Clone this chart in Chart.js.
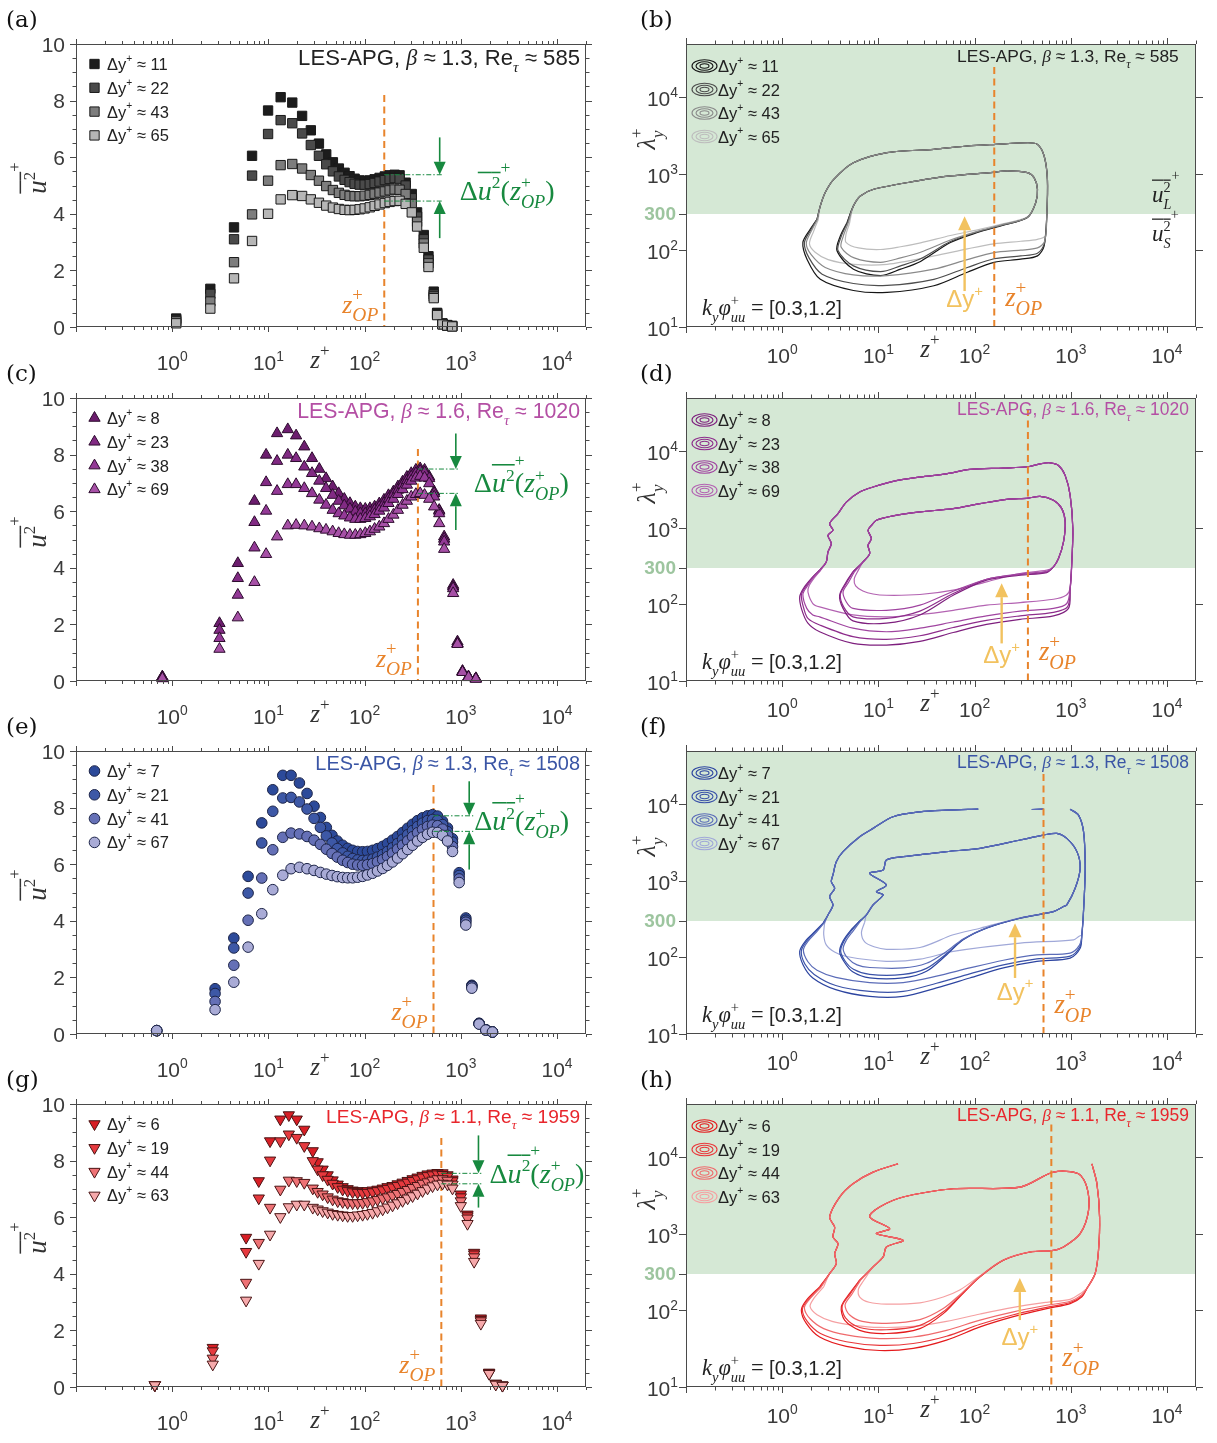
<!DOCTYPE html>
<html>
<head>
<meta charset="UTF-8" />
<title>LES-APG streamwise energy: profiles and spectra</title>
<script src="https://cdn.jsdelivr.net/npm/chart.js"></script>
<style>
  body { margin: 0; background: #fff; width: 1217px; height: 1443px; position: relative; overflow: hidden; }
  canvas { position: absolute; }
</style>
</head>
<body>
<script>
// ---------- profile data: wall distance z+ and u'u'+ for four grid spacings ----------
const zA = [1.10, 2.49, 4.39, 6.76, 9.92, 13.4, 17.7, 22.4, 27.6, 33.5, 39.9, 46.8, 54.0, 61.9, 69.8, 78.7, 88.7, 100, 113, 127, 143, 162, 182, 205, 231, 267, 309, 351, 412, 461, 523, 567, 644, 721, 813];
const uA1 = [0.30, 1.35, 3.52, 6.05, 7.65, 8.12, 7.93, 7.46, 6.95, 6.48, 6.10, 5.82, 5.60, 5.45, 5.33, 5.24, 5.18, 5.16, 5.18, 5.22, 5.27, 5.32, 5.36, 5.38, 5.36, 5.10, 4.70, 4.05, 3.25, 2.50, 1.25, 0.50, 0.13, 0.07, 0.04];
const uA2 = [0.25, 1.17, 3.10, 5.35, 6.82, 7.31, 7.20, 6.84, 6.43, 6.05, 5.75, 5.50, 5.32, 5.20, 5.12, 5.06, 5.03, 5.03, 5.05, 5.09, 5.14, 5.19, 5.23, 5.26, 5.24, 5.00, 4.55, 3.90, 3.10, 2.38, 1.15, 0.48, 0.11, 0.06, 0.03];
const uA3 = [0.20, 0.90, 2.29, 3.98, 5.17, 5.72, 5.76, 5.60, 5.37, 5.17, 4.98, 4.84, 4.74, 4.67, 4.63, 4.62, 4.62, 4.64, 4.67, 4.71, 4.75, 4.79, 4.83, 4.86, 4.85, 4.70, 4.35, 3.72, 2.95, 2.25, 1.08, 0.45, 0.10, 0.05, 0.03];
const uA4 = [0.13, 0.65, 1.72, 3.04, 4.00, 4.51, 4.66, 4.63, 4.51, 4.39, 4.29, 4.22, 4.17, 4.14, 4.13, 4.14, 4.16, 4.19, 4.23, 4.28, 4.33, 4.38, 4.42, 4.45, 4.46, 4.35, 4.05, 3.55, 2.80, 2.12, 1.02, 0.42, 0.09, 0.05, 0.02];

const zC = [0.79, 3.10, 4.81, 7.16, 9.46, 12.3, 15.9, 19.4, 23.6, 28.4, 33.8, 39.7, 46.5, 53.7, 61.5, 70.4, 80.0, 90.2, 101.6, 113.5, 127, 142, 159, 177, 199, 222, 248, 275, 305, 341, 378, 420, 469, 528, 596, 671, 832, 923, 1041, 1201, 1432];
const uC1 = [0.15, 2.04, 4.16, 6.36, 7.99, 8.75, 8.89, 8.67, 8.28, 7.87, 7.49, 7.16, 6.87, 6.63, 6.43, 6.28, 6.16, 6.10, 6.08, 6.10, 6.16, 6.27, 6.40, 6.56, 6.69, 6.87, 7.04, 7.21, 7.34, 7.46, 7.51, 7.46, 7.22, 6.69, 6.04, 5.10, 3.39, 1.39, 0.35, 0.15, 0.09];
const uC2 = [0.15, 1.80, 3.63, 5.61, 7.02, 7.77, 7.99, 7.87, 7.57, 7.34, 7.07, 6.81, 6.57, 6.36, 6.20, 6.08, 5.98, 5.92, 5.91, 5.96, 6.04, 6.15, 6.28, 6.43, 6.60, 6.75, 6.93, 7.08, 7.22, 7.34, 7.42, 7.37, 7.16, 6.63, 6.01, 5.02, 3.33, 1.33, 0.33, 0.15, 0.09];
const uC3 = [0.12, 1.51, 3.04, 4.71, 6.01, 6.71, 6.95, 6.95, 6.81, 6.63, 6.40, 6.22, 6.04, 5.92, 5.84, 5.77, 5.72, 5.72, 5.75, 5.81, 5.89, 6.01, 6.12, 6.28, 6.43, 6.60, 6.77, 6.93, 7.07, 7.18, 7.24, 7.18, 6.98, 6.51, 5.92, 4.92, 3.27, 1.33, 0.33, 0.15, 0.09];
const uC4 = [0.09, 1.13, 2.24, 3.49, 4.48, 5.10, 5.49, 5.51, 5.49, 5.45, 5.39, 5.34, 5.28, 5.22, 5.18, 5.16, 5.16, 5.18, 5.22, 5.28, 5.37, 5.45, 5.57, 5.72, 5.87, 6.04, 6.22, 6.36, 6.51, 6.60, 6.63, 6.57, 6.43, 6.16, 5.57, 4.66, 3.10, 1.30, 0.31, 0.13, 0.07];

const zE = [0.69, 2.79, 4.37, 6.15, 8.53, 11.1, 14.1, 17.2, 21.0, 25.2, 29.8, 34.7, 40.0, 45.8, 52.0, 59.1, 66.6, 75.0, 84.6, 95.3, 107, 121, 136, 154, 173, 195, 220, 248, 280, 315, 355, 400, 451, 508, 572, 645, 727, 819, 961, 1127, 1301, 1549, 1818, 2131];
const uE1 = [0.12, 1.60, 3.39, 5.57, 7.46, 8.63, 9.14, 9.14, 8.87, 8.50, 8.05, 7.65, 7.30, 7.02, 6.82, 6.67, 6.56, 6.49, 6.45, 6.44, 6.45, 6.49, 6.55, 6.63, 6.73, 6.85, 6.98, 7.12, 7.27, 7.41, 7.54, 7.64, 7.71, 7.75, 7.70, 7.52, 7.28, 6.90, 5.70, 4.10, 1.72, 0.38, 0.15, 0.07];
const uE2 = [0.12, 1.43, 3.04, 4.98, 6.75, 7.87, 8.34, 8.36, 8.20, 7.95, 7.62, 7.30, 7.00, 6.75, 6.55, 6.40, 6.28, 6.20, 6.15, 6.13, 6.14, 6.18, 6.25, 6.34, 6.45, 6.58, 6.73, 6.88, 7.04, 7.19, 7.33, 7.45, 7.54, 7.58, 7.55, 7.40, 7.15, 6.78, 5.60, 4.02, 1.70, 0.37, 0.15, 0.07];
const uE3 = [0.12, 1.15, 2.43, 4.02, 5.51, 6.51, 6.95, 7.10, 7.07, 6.98, 6.85, 6.70, 6.53, 6.38, 6.25, 6.14, 6.06, 6.00, 5.97, 5.96, 5.98, 6.02, 6.08, 6.16, 6.27, 6.39, 6.53, 6.67, 6.82, 6.97, 7.11, 7.23, 7.33, 7.38, 7.36, 7.24, 7.02, 6.62, 5.48, 3.95, 1.68, 0.36, 0.14, 0.07];
const uE4 = [0.12, 0.86, 1.83, 3.07, 4.25, 5.10, 5.61, 5.84, 5.89, 5.84, 5.78, 5.71, 5.65, 5.60, 5.56, 5.53, 5.52, 5.52, 5.54, 5.57, 5.62, 5.68, 5.76, 5.85, 5.96, 6.08, 6.22, 6.37, 6.52, 6.67, 6.82, 6.95, 7.06, 7.13, 7.12, 7.02, 6.82, 6.45, 5.35, 3.85, 1.62, 0.35, 0.14, 0.07];

const zG = [0.66, 2.64, 5.86, 7.94, 10.4, 13.3, 16.3, 19.7, 23.6, 28.9, 32.5, 36.6, 41.3, 46.5, 52.5, 59.1, 66.6, 75.0, 84.6, 95.3, 107, 121, 136, 154, 173, 195, 220, 248, 280, 315, 355, 400, 451, 508, 572, 645, 727, 819, 1000, 1173, 1375, 1614, 1968, 2307, 2709];
const uG1 = [0.07, 1.39, 5.28, 7.28, 8.69, 9.46, 9.61, 9.46, 9.10, 8.34, 7.95, 7.69, 7.49, 7.31, 7.16, 7.07, 7.00, 6.95, 6.93, 6.91, 6.93, 6.95, 6.98, 7.02, 7.07, 7.11, 7.17, 7.23, 7.29, 7.35, 7.41, 7.47, 7.52, 7.55, 7.57, 7.56, 7.49, 7.34, 6.81, 6.10, 4.75, 2.43, 0.51, 0.12, 0.06];
const uG2 = [0.07, 1.27, 4.78, 6.67, 8.01, 8.69, 8.93, 8.81, 8.52, 7.99, 7.69, 7.49, 7.33, 7.19, 7.07, 6.98, 6.93, 6.89, 6.87, 6.86, 6.87, 6.89, 6.93, 6.96, 7.01, 7.06, 7.11, 7.17, 7.23, 7.29, 7.35, 7.41, 7.46, 7.49, 7.52, 7.50, 7.44, 7.28, 6.71, 6.04, 4.69, 2.38, 0.51, 0.12, 0.06];
const uG3 = [0.07, 1.01, 3.69, 5.10, 6.34, 6.98, 7.30, 7.28, 7.22, 7.02, 6.90, 6.81, 6.71, 6.63, 6.57, 6.54, 6.51, 6.50, 6.50, 6.51, 6.54, 6.57, 6.62, 6.67, 6.71, 6.77, 6.83, 6.90, 6.97, 7.04, 7.11, 7.19, 7.24, 7.30, 7.35, 7.35, 7.30, 7.16, 6.57, 5.96, 4.59, 2.33, 0.48, 0.12, 0.06];
const uG4 = [0.07, 0.80, 3.06, 4.36, 5.39, 6.01, 6.36, 6.45, 6.45, 6.34, 6.28, 6.22, 6.17, 6.12, 6.09, 6.07, 6.05, 6.05, 6.07, 6.09, 6.12, 6.16, 6.22, 6.28, 6.35, 6.42, 6.50, 6.58, 6.67, 6.75, 6.84, 6.93, 7.02, 7.10, 7.16, 7.19, 7.16, 7.02, 6.40, 5.77, 4.43, 2.24, 0.47, 0.09, 0.05];

// grid spacings, case parameters, outer-peak location and the two levels marked at z_OP
const dyA = ['11', '22', '43', '65'];
const dyC = ['8', '23', '38', '69'];
const dyE = ['7', '21', '41', '67'];
const dyG = ['6', '19', '44', '63'];
const betas = ['1.3', '1.6', '1.3', '1.1'];
const reTaus = ['585', '1020', '1508', '1959'];
const zOP = [160, 358, 520, 627];
const duTop = [5.38, 7.49, 7.71, 7.55];
const duBot = [4.45, 6.63, 7.16, 7.18];

// ---------- spectrogram contours k_y phi_uu+ = 0.3 (outer) and 1.2 (inner), points [z+, lambda_y+] ----------
// shared upper arcs, then the lower branch of each grid spacing
const outerTopB = [[562, 283], [571, 850], [528, 1720], [450, 2440], [354, 2560], [166, 2440], [84, 2320], [37.7, 2100], [12.3, 1900], [5.5, 1400], [3.43, 850], [2.8, 572], [2.49, 383]];
const outerLowB = [
  [[2.30, 256], [1.96, 190], [1.64, 127], [1.81, 77], [2.49, 42], [5.5, 30], [12.3, 28.3], [37.7, 34.6], [84, 52], [159, 70], [301, 77], [450, 85], [528, 115]],
  [[2.30, 256], [1.98, 186], [1.70, 126], [1.90, 80], [2.6, 49], [5.5, 37], [12.3, 35], [37.7, 42], [84, 60], [159, 78], [301, 85], [450, 92], [530, 122]],
  [[2.32, 254], [2.02, 182], [1.78, 124], [2.0, 88], [2.8, 60], [5.5, 48], [12.3, 47], [37.7, 57], [84, 76], [159, 94], [301, 101], [450, 108], [535, 132]],
  [[2.36, 250], [2.12, 178], [1.92, 122], [2.2, 95], [3.0, 76], [5.5, 66], [12.3, 66], [37.7, 85], [84, 105], [159, 122], [301, 132], [450, 140], [540, 155]]
];
const innerTopB = [[432, 423], [450, 631], [415, 895], [354, 1040], [219, 1096], [147, 1040], [56, 942], [25.3, 811], [8.93, 631], [6.49, 516], [5.5, 383]];
const innerLowB = [
  [[4.72, 232], [4.02, 155], [3.71, 99], [5.5, 57], [10.5, 47], [17, 57], [27.4, 72], [56, 127], [107, 172], [187, 210], [354, 269]],
  [[4.75, 230], [4.1, 152], [3.8, 100], [5.5, 63], [10.5, 53], [17, 63], [27.4, 78], [56, 131], [107, 175], [187, 212], [354, 270]],
  [[4.85, 228], [4.3, 152], [4.1, 110], [5.6, 80], [10.5, 70], [17, 80], [27.4, 95], [56, 137], [107, 178], [187, 215], [354, 272]],
  [[5.0, 225], [4.6, 162], [4.6, 128], [6.2, 108], [10.5, 103], [17, 112], [27.4, 126], [56, 157], [107, 186], [187, 220], [354, 275]]
];

const outerTopD = [[984, 162], [1024, 360], [1049, 980], [984, 2670], [873, 4870], [744, 6560], [609, 7110], [479, 6900], [362, 6310], [199, 6060], [89.3, 5820], [51.1, 5110], [27, 4630], [14.2, 4060], [8.8, 3430], [6.39, 2950], [4.64, 2180], [3.8, 1540], [3.11, 1140], [3.37, 933], [2.99, 802], [3.24, 625], [2.99, 487], [2.87, 360]];
const outerLowD = [
  [[2.45, 281], [2.08, 230], [1.71, 171], [1.52, 126], [1.60, 85], [1.85, 57], [2.45, 44], [5.44, 31], [12.1, 29.5], [27, 33], [59.9, 43], [133, 55], [297, 64], [660, 71], [946, 89]],
  [[2.45, 281], [2.08, 228], [1.75, 170], [1.58, 132], [1.68, 88], [1.85, 66], [2.45, 54], [5.44, 38], [12.1, 35], [27, 39], [59.9, 50], [133, 62], [297, 71], [660, 79], [923, 93]],
  [[2.47, 280], [2.1, 225], [1.8, 170], [1.64, 135], [1.80, 89], [2.08, 73], [2.45, 69], [5.44, 49], [12.1, 44], [27, 49], [59.9, 59], [133, 71], [297, 82], [660, 89], [908, 103]],
  [[2.5, 278], [2.15, 222], [1.9, 175], [1.85, 146], [2.08, 103], [2.45, 93], [5.44, 73], [12.1, 69], [27, 74], [59.9, 84], [133, 98], [297, 106], [660, 117], [894, 132]]
];
const innerTopD = [[660, 310], [744, 398], [839, 657], [873, 1200], [806, 1790], [660, 2300], [479, 2590], [362, 2460], [215, 2370], [114, 2080], [59.9, 1790], [27, 1620], [14.2, 1440], [9.53, 1260], [8.45, 1080], [7.8, 933], [8.45, 726], [7.8, 594], [8.12, 463], [6.92, 360]];
const innerLowD = [
  [[5.44, 267], [4.64, 198], [3.95, 132], [4.29, 89], [5.44, 61], [12.1, 57], [27, 73], [59.9, 132], [133, 208], [297, 241], [562, 261]],
  [[5.44, 267], [4.7, 196], [4.02, 135], [4.35, 93], [5.44, 69], [12.1, 66], [27, 82], [59.9, 139], [133, 214], [297, 246], [562, 267]],
  [[5.6, 265], [4.9, 195], [4.29, 146], [4.64, 108], [5.44, 89], [12.1, 84], [27, 98], [59.9, 149], [133, 214], [297, 251], [562, 272]],
  [[6.0, 262], [5.6, 215], [5.8, 175], [6.9, 150], [8.8, 137], [12.1, 132], [27, 135], [59.9, 154], [133, 198], [297, 254], [562, 281]]
];

const outerTopF = [[1303, 198], [1377, 594], [1410, 1620], [1357, 4390], [1202, 7260], [984, 8690], null, [519, 8690], [393, 8600], null, [109, 8690], [51, 8430], [27, 8020], [14.2, 6900], [8.8, 4870], [6.39, 3790], [4.29, 2420], [3.65, 1790], [3.37, 1200], [3.24, 980], [3.51, 802], [3.11, 625], [3.37, 487], [2.99, 360]];
const outerLowF = [
  [[2.66, 281], [2.2, 220], [1.75, 165], [1.52, 120], [1.65, 80], [2.08, 54], [3.6, 38], [8.12, 31], [18.1, 31], [40.2, 40], [89, 54], [199, 73], [443, 89], [984, 98], [1250, 132]],
  [[2.68, 280], [2.22, 218], [1.8, 165], [1.58, 122], [1.72, 82], [2.15, 60], [3.6, 43], [8.12, 36], [18.1, 36], [40.2, 46], [89, 61], [199, 80], [443, 96], [984, 104], [1240, 138]],
  [[2.7, 279], [2.27, 215], [1.87, 165], [1.66, 125], [1.85, 88], [2.3, 68], [3.6, 55], [8.12, 47], [18.1, 47], [40.2, 57], [89, 73], [199, 92], [443, 108], [984, 114], [1230, 145]],
  [[2.75, 275], [2.7, 200], [2.87, 146], [3.5, 118], [4.64, 103], [12.1, 89], [27, 95], [59.9, 120], [297, 154], [1066, 170], [1220, 190]]
];
const innerTopF = [[908, 487], [1109, 802], [1250, 1460], [1157, 2420], [908, 3600], [714, 4190], [519, 3980], [297, 3430], [114, 2670], [51, 2420], [18.1, 2080], [12.1, 1880], [11.2, 1390], [8.12, 1260], [12.1, 887], [9.53, 726], [11.2, 657], [8.8, 487], [7.5, 360]];
const innerLowF = [
  [[6.4, 300], [5.2, 230], [4.3, 165], [3.95, 120], [4.4, 88], [5.4, 65], [8.12, 54], [18.1, 54], [31.6, 66], [51, 108], [76, 170], [133, 241], [297, 326], [660, 398], [839, 463]],
  [[6.4, 300], [5.3, 228], [4.4, 165], [4.05, 122], [4.5, 90], [5.5, 70], [8.12, 60], [18.1, 60], [31.6, 72], [51, 112], [76, 172], [133, 243], [297, 326], [660, 398], [839, 463]],
  [[6.5, 298], [5.5, 225], [4.6, 165], [4.3, 128], [4.8, 98], [6, 80], [8.12, 74], [18.1, 73], [31.6, 84], [51, 120], [76, 175], [133, 245], [297, 328], [660, 398], [839, 463]],
  [[7.2, 290], [6.66, 210], [7.2, 160], [9, 138], [12.1, 128], [27, 135], [59.9, 198], [114, 241], [297, 330], [660, 400], [839, 463]]
];

const outerTopH = [[1468, 194], [1790, 304], [1940, 612], [1990, 1670], [1868, 4540], [1656, 8270], null, [16.0, 8270], [8.8, 6440], [5.44, 4540], [3.95, 3040], [3.11, 1670], [3.51, 1230], [3.37, 914], [3.80, 748], [3.51, 553], [3.65, 410], [3.11, 304]];
const outerLowH = [
  [[2.45, 204], [1.78, 136], [1.58, 101], [1.78, 68], [2.45, 45], [4.64, 34], [10.3, 30], [23, 32], [51, 41], [114, 61], [253, 83], [562, 106], [984, 123], [1303, 151]],
  [[2.5, 204], [1.85, 136], [1.62, 104], [1.82, 72], [2.5, 50], [4.64, 39], [10.3, 35], [23, 37], [51, 46], [114, 66], [253, 88], [562, 110], [984, 127], [1303, 155]],
  [[2.55, 204], [1.9, 138], [1.7, 108], [1.95, 78], [2.7, 58], [4.64, 48], [10.3, 43], [23, 45], [51, 55], [114, 75], [253, 96], [562, 117], [984, 132], [1290, 160]],
  [[2.7, 204], [2.1, 140], [1.95, 112], [2.3, 88], [3.3, 72], [5.5, 64], [10.3, 60], [23, 62], [51, 72], [114, 90], [253, 110], [562, 128], [984, 140], [1270, 168]]
];
const innerTopH = [[839, 676], [1250, 1010], [1528, 2040], [1468, 4100], [1202, 6120], [660, 6440], [297, 4100], [60, 3900], [18.1, 3040], [10.3, 2250], [8.12, 1670], [13.1, 1175], [9.53, 1010], [18.1, 826], [12.1, 676], [11.2, 501], [8.8, 371]];
const innerLowH = [
  [[6.39, 249], [5.02, 167], [4.12, 112], [4.45, 75], [6.39, 55], [12.1, 50], [27, 58], [47.2, 91], [70, 151], [114, 275], [199, 454], [377, 582], [660, 612]],
  [[6.39, 249], [5.1, 165], [4.2, 114], [4.55, 80], [6.39, 60], [12.1, 56], [27, 64], [47.2, 96], [70, 155], [114, 277], [199, 455], [377, 582], [660, 612]],
  [[6.5, 248], [5.3, 163], [4.5, 118], [5.0, 88], [6.8, 72], [12.1, 68], [27, 76], [47.2, 106], [70, 160], [114, 280], [199, 456], [377, 583], [660, 612]],
  [[7, 245], [6.2, 190], [6.4, 150], [8, 128], [12.1, 121], [27, 126], [47.2, 150], [70, 185], [114, 285], [199, 458], [377, 584], [660, 612]]
];

// axis ticks
const uTicks = [0, 2, 4, 6, 8, 10];
const zDecades = [0, 1, 2, 3, 4];
const lamDecades = [1, 2, 3, 4];
const lamSplit = 300;

// ---------- styling ----------
const SANS = '"Liberation Sans", Arial, sans-serif';
const SERIF = '"Liberation Serif", "Times New Roman", serif';
const LETTER = '"DejaVu Serif", serif';
const ORANGE = '#e8842c', GREEN = '#17893f', YELLOW = '#f2c25f', FILLG = '#d5e8d5', G300 = '#9dc59f';
const AX = '#4a4a4a', TXT = '#3a3a3a';

const rows = [
  { u: [uA1, uA2, uA3, uA4], z: zA, dy: dyA, tag: ['(a)', '(b)'],
    style: 'rect', rot: 0, rad: 6.6, fill: ['#1c1c1c', '#4a4a4a', '#7d7d7d', '#b6b6b6'], edge: '#1a1a1a',
    line: ['#151515', '#4d4d4d', '#8a8a8a', '#bdbdbd'], title: '#222222',
    cont: [outerTopB, outerLowB, innerTopB, innerLowB],
    opU: 8.2, opL: 2.5e4, arZ: 603, arTop: 6.7, arBot: 3.14, duDx: 20,
    tL: [298, 580, 21], tR: [957, 1179, 18], dyZ: 78.7, dyT: 29.5, dyH: 280, dyLab: 16 },
  { u: [uC1, uC2, uC3, uC4], z: zC, dy: dyC, tag: ['(c)', '(d)'],
    style: 'triangle', rot: 0, rad: 6.5, fill: ['#6c1d6e', '#812a83', '#933996', '#a650a6'], edge: '#2d0c2e',
    line: ['#7e1f7e', '#8e2d8c', '#a044a0', '#b363b2'], title: '#b44fa4',
    cont: [outerTopD, outerLowD, innerTopD, innerLowD],
    opU: 8.2, opL: 3.6e4, arZ: 887, arTop: 8.75, arBot: 5.34, duDx: 18,
    tL: [297, 580, 20], tR: [957, 1189, 17], dyZ: 191, dyT: 31, dyH: 190, dyLab: 20 },
  { u: [uE1, uE2, uE3, uE4], z: zE, dy: dyE, tag: ['(e)', '(f)'],
    style: 'circle', rot: 0, rad: 5.3, fill: ['#2c4a9a', '#3d58a6', '#6570b6', '#a9abd6'], edge: '#1c2448',
    line: ['#2c44a0', '#3a52a8', '#5b6cb8', '#a0a8d8'], title: '#3a55a5',
    cont: [outerTopF, outerLowF, innerTopF, innerLowF],
    opU: 8.8, opL: 2.5e4, arZ: 1222, arTop: 8.93, arBot: 5.81, duDx: 5,
    tL: [315, 580, 19], tR: [957, 1189, 17], dyZ: 263, dyT: 54, dyH: 280, dyLab: 22 },
  { u: [uG1, uG2, uG3, uG4], z: zG, dy: dyG, tag: ['(g)', '(h)'],
    style: 'triangle', rot: 180, rad: 6.5, fill: ['#d81e25', '#e6393e', '#ee7275', '#f6a9ab'], edge: '#4a1414',
    line: ['#e41a1c', '#e9383b', '#ef6a6c', '#f5a0a2'], title: '#e8262c',
    cont: [outerTopH, outerLowH, innerTopH, innerLowH],
    opU: 8.8, opL: 2.7e4, arZ: 1525, arTop: 8.89, arBot: 6.34, duDx: 11,
    tL: [326, 580, 19], tR: [957, 1189, 17], dyZ: 295, dyT: 75, dyH: 265, dyLab: 25 }
];
const rowTop = [0, 354, 707, 1060];
const rowH = [400, 400, 400, 383];
const RIGHT_X = 608;
// contour stacking: third spacing drawn on top, coarsest underneath
const lineOrder = [2, 1, 0, 3];

// ---------- text helpers ----------
function fnt(f, s) {
  if (f === 'it') return 'italic ' + s + 'px ' + SERIF;
  if (f === 'rm') return s + 'px ' + SERIF;
  if (f === 'b') return 'bold ' + s + 'px ' + SANS;
  return s + 'px ' + SANS;
}
function richWidth(ctx, items, size) {
  let w = 0;
  for (const it of items) {
    ctx.font = fnt(it.f, size * (it.k || 1));
    if (!it.stay) w += ctx.measureText(it.t).width;
  }
  return w;
}
// items: {t, f, k: size factor, dy: shift in em, ov: overline offset in em, stay: no advance}
function rich(ctx, items, x, y, size, align, color) {
  const w = richWidth(ctx, items, size);
  let cx = align === 'right' ? x - w : align === 'center' ? x - w / 2 : x;
  ctx.fillStyle = color; ctx.strokeStyle = color;
  ctx.textAlign = 'left'; ctx.textBaseline = 'alphabetic';
  for (const it of items) {
    ctx.font = fnt(it.f, size * (it.k || 1));
    const m = ctx.measureText(it.t).width;
    ctx.fillText(it.t, cx, y + (it.dy || 0) * size);
    if (it.ov) {
      ctx.lineWidth = Math.max(1, size / 18);
      ctx.beginPath(); ctx.moveTo(cx, y + it.ov * size); ctx.lineTo(cx + m, y + it.ov * size); ctx.stroke();
    }
    if (!it.stay) cx += m;
  }
  return w;
}
// draw rich text scaled so it spans x0..x1
function fitted(ctx, items, x0, x1, y, color, align) {
  const s = 20 * (x1 - x0) / richWidth(ctx, items, 20);
  rich(ctx, items, align === 'right' ? x1 : x0, y, s, align, color);
}
const pow10 = d => [{ t: '10' }, { t: String(d), k: 0.66, dy: -0.45 }];
const dyItems = v => [{ t: 'Δy' }, { t: '+', k: 0.62, dy: -0.5 }, { t: ' ≈ ' + v }];
const titleItems = (b, re) => [{ t: 'LES-APG, ' }, { t: 'β', f: 'it' }, { t: ' ≈ ' + b + ', Re' }, { t: 'τ', f: 'it', k: 0.7, dy: 0.32 }, { t: ' ≈ ' + re }];
const zopItems = [{ t: 'z', f: 'it' }, { t: '+', f: 'rm', k: 0.72, dy: -0.45, stay: true }, { t: 'OP', f: 'it', k: 0.75, dy: 0.32 }];
const duItems = [{ t: 'Δ', f: 'rm' }, { t: 'u', f: 'it', ov: -0.98 }, { t: '2', f: 'rm', k: 0.62, dy: -0.42, ov: -0.98 }, { t: '+', f: 'rm', k: 0.62, dy: -0.95, stay: true },
  { t: '(', f: 'rm' }, { t: 'z', f: 'it' }, { t: '+', f: 'rm', k: 0.62, dy: -0.42, stay: true }, { t: 'OP', f: 'it', k: 0.65, dy: 0.28 }, { t: ')', f: 'rm' }];
const kyItems = [{ t: 'k', f: 'it' }, { t: 'y', f: 'it', k: 0.65, dy: 0.3 }, { t: 'φ', f: 'it' }, { t: '+', f: 'rm', k: 0.65, dy: -0.45, stay: true },
  { t: 'uu', f: 'it', k: 0.65, dy: 0.3 }, { t: ' = ', f: 'rm' }, { t: '[0.3,1.2]', f: 'sans', k: 0.9 }];

function logTicks(min, max) {
  const out = [];
  for (let d = -2; d <= 5; d++) for (let m = 1; m <= 9; m++) {
    const v = m * Math.pow(10, d);
    if (v >= min * 0.999 && v <= max * 1.001) out.push([v, m === 1]);
  }
  return out;
}
function arrow(ctx, x, y0, y1, color, lw, hw, hl) {
  const dir = Math.sign(y1 - y0);
  ctx.strokeStyle = color; ctx.fillStyle = color; ctx.lineWidth = lw; ctx.setLineDash([]);
  ctx.beginPath(); ctx.moveTo(x, y0); ctx.lineTo(x, y1 - dir * hl); ctx.stroke();
  ctx.beginPath(); ctx.moveTo(x - hw / 2, y1 - dir * hl); ctx.lineTo(x + hw / 2, y1 - dir * hl); ctx.lineTo(x, y1); ctx.closePath(); ctx.fill();
}
function xTicks(ctx, a, x, maj, min) {
  ctx.beginPath();
  for (const [v, major] of logTicks(x.min, x.max)) {
    const px = Math.round(x.getPixelForValue(v)) + 0.5, len = major ? maj : min;
    ctx.moveTo(px, a.bottom); ctx.lineTo(px, a.bottom + len);
    ctx.moveTo(px, a.top); ctx.lineTo(px, a.top - len);
  }
  ctx.stroke();
}
function panelLetter(ctx, s, x) {
  ctx.font = '23px ' + LETTER; ctx.fillStyle = '#111'; ctx.textAlign = 'left'; ctx.textBaseline = 'alphabetic';
  ctx.fillText(s, x, 27);
}

function makeCanvas(left, top, w, h) {
  const c = document.createElement('canvas');
  c.width = w; c.height = h;
  c.style.left = left + 'px'; c.style.top = top + 'px';
  c.style.width = w + 'px'; c.style.height = h + 'px';
  document.body.appendChild(c);
  return c;
}
const baseOptions = (h, padL, padR) => ({
  responsive: false, animation: false, events: [],
  layout: { padding: { left: padL, right: padR, top: 44, bottom: h - 327 } },
  plugins: { legend: { display: false }, tooltip: { enabled: false } }
});

// ---------- left column: u'u'+ profiles ----------
function profileChart(r) {
  const row = rows[r], h = rowH[r];
  const canvas = makeCanvas(0, rowTop[r], RIGHT_X, h);
  const datasets = row.u.map((vals, i) => ({
    data: row.z.map((z, j) => ({ x: z, y: vals[j] })),
    pointStyle: row.style, pointRotation: row.rot, pointRadius: row.rad,
    backgroundColor: row.fill[i], borderColor: row.edge, borderWidth: 1,
    showLine: false, order: 3 - i, clip: false
  }));
  const decor = {
    id: 'profileDecor',
    beforeDatasetsDraw(chart) {
      const { ctx, chartArea: a, scales: { x, y } } = chart;
      const px = x.getPixelForValue(zOP[r]);
      ctx.save();
      ctx.strokeStyle = ORANGE; ctx.lineWidth = 2; ctx.setLineDash([7, 4.5]);
      ctx.beginPath(); ctx.moveTo(px, y.getPixelForValue(row.opU)); ctx.lineTo(px, a.bottom); ctx.stroke();
      ctx.restore();
    },
    afterDraw(chart) {
      const { ctx, chartArea: a, scales: { x, y } } = chart;
      ctx.save();
      // frame and outward ticks
      ctx.strokeStyle = AX; ctx.lineWidth = 1;
      ctx.strokeRect(a.left + 0.5, a.top + 0.5, a.right - a.left - 1, a.bottom - a.top - 1);
      xTicks(ctx, a, x, 5, 3);
      ctx.beginPath();
      for (let i = 0; i <= 20; i++) {
        const py = Math.round(y.getPixelForValue(i / 2)) + 0.5, len = i % 4 === 0 ? 6 : 3.5;
        ctx.moveTo(a.left, py); ctx.lineTo(a.left - len, py);
        ctx.moveTo(a.right, py); ctx.lineTo(a.right + len, py);
      }
      ctx.stroke();
      // tick labels
      ctx.font = fnt('sans', 21); ctx.fillStyle = TXT; ctx.textAlign = 'right'; ctx.textBaseline = 'alphabetic';
      uTicks.forEach(v => ctx.fillText(String(v), a.left - 11, y.getPixelForValue(v) + 7.5));
      zDecades.forEach(d => rich(ctx, pow10(d), x.getPixelForValue(Math.pow(10, d)), a.bottom + 43, 21, 'center', TXT));
      // axis titles
      rich(ctx, [{ t: 'z', f: 'it' }, { t: '+', f: 'rm', k: 0.68, dy: -0.5 }], 320, a.bottom + 41, 25, 'center', '#333');
      ctx.save(); ctx.translate(46, a.top + 134); ctx.rotate(-Math.PI / 2);
      rich(ctx, [{ t: 'u', f: 'it', ov: -0.95 }, { t: '2', f: 'rm', k: 0.62, dy: -0.42, ov: -0.95 }, { t: '+', f: 'rm', k: 0.62, dy: -0.95 }], 0, 0, 27, 'center', '#333');
      ctx.restore();
      panelLetter(ctx, row.tag[0], 6);
      // case title
      fitted(ctx, titleItems(betas[r], reTaus[r]), row.tL[0], row.tL[1], a.top + row.tL[2], row.title, 'right');
      // legend
      row.dy.forEach((v, i) => {
        const ly = a.top + 20 + 23.8 * i;
        ctx.fillStyle = row.fill[i]; ctx.strokeStyle = row.edge; ctx.lineWidth = 1;
        Chart.helpers.drawPoint(ctx, { pointStyle: row.style, rotation: row.rot, radius: row.rad, borderWidth: 1 }, 94.5, ly);
        rich(ctx, dyItems(v), 107, ly + 6, 16.5, 'left', '#222');
      });
      // outer-peak marker label
      const px = x.getPixelForValue(zOP[r]);
      fitted(ctx, zopItems, px - 42, px - 6, a.bottom - 14, ORANGE, 'right');
      // difference between finest and coarsest spacing at z_OP
      const ax = x.getPixelForValue(row.arZ);
      const yT = y.getPixelForValue(duTop[r]), yB = y.getPixelForValue(duBot[r]);
      ctx.strokeStyle = GREEN; ctx.lineWidth = 1; ctx.setLineDash([5, 2, 1.5, 2]);
      ctx.beginPath(); ctx.moveTo(px, yT); ctx.lineTo(ax + 4, yT); ctx.moveTo(px, yB); ctx.lineTo(ax + 4, yB); ctx.stroke();
      arrow(ctx, ax, y.getPixelForValue(row.arTop), yT, GREEN, 1.6, 12, 13);
      arrow(ctx, ax, y.getPixelForValue(row.arBot), yB, GREEN, 1.6, 12, 13);
      fitted(ctx, duItems, ax + row.duDx, ax + row.duDx + 95, yB - 1, GREEN, 'left');
      ctx.restore();
    }
  };
  new Chart(canvas, {
    type: 'scatter', data: { datasets },
    options: Object.assign(baseOptions(h, 76, 22), {
      scales: { x: { type: 'logarithmic', min: 0.1, max: 20000, display: false }, y: { min: 0, max: 10, display: false } }
    }),
    plugins: [decor]
  });
}

// ---------- right column: premultiplied spanwise spectra ----------
function loop(lower, upper) {
  return lower.concat(upper, [lower[0]]).map(p => (p ? { x: p[0], y: p[1] } : { x: null, y: null }));
}
function spectrumChart(r) {
  const row = rows[r], h = rowH[r];
  const canvas = makeCanvas(RIGHT_X, rowTop[r], 1217 - RIGHT_X, h);
  const [oTop, oLow, iTop, iLow] = row.cont;
  const datasets = [];
  for (let i = 0; i < 4; i++) {
    [loop(oLow[i], oTop), loop(iLow[i], iTop)].forEach(d => datasets.push({
      data: d, showLine: true, pointRadius: 0, borderColor: row.line[i], borderWidth: 1.2,
      tension: 0.3, spanGaps: false, fill: false, order: lineOrder[i]
    }));
  }
  const decor = {
    id: 'spectrumDecor',
    beforeDatasetsDraw(chart) {
      const { ctx, chartArea: a, scales: { y } } = chart;
      ctx.save(); ctx.fillStyle = FILLG;
      const py = y.getPixelForValue(lamSplit);
      ctx.fillRect(a.left, a.top, a.right - a.left, py - a.top);
      ctx.restore();
    },
    afterDatasetsDraw(chart) {
      const { ctx, chartArea: a, scales: { x, y } } = chart;
      const px = x.getPixelForValue(zOP[r]);
      ctx.save();
      ctx.strokeStyle = ORANGE; ctx.lineWidth = 2; ctx.setLineDash([7, 4.5]);
      ctx.beginPath(); ctx.moveTo(px, y.getPixelForValue(row.opL)); ctx.lineTo(px, a.bottom); ctx.stroke();
      ctx.restore();
    },
    afterDraw(chart) {
      const { ctx, chartArea: a, scales: { x, y } } = chart;
      ctx.save();
      ctx.strokeStyle = AX; ctx.lineWidth = 1;
      ctx.strokeRect(a.left + 0.5, a.top + 0.5, a.right - a.left - 1, a.bottom - a.top - 1);
      xTicks(ctx, a, x, 6, 3.5);
      ctx.beginPath();
      lamDecades.forEach(d => {
        const py = Math.round(y.getPixelForValue(Math.pow(10, d))) + 0.5;
        ctx.moveTo(a.left, py); ctx.lineTo(a.left - 7, py);
        ctx.moveTo(a.right, py); ctx.lineTo(a.right + 7, py);
      });
      const p3 = Math.round(y.getPixelForValue(lamSplit)) + 0.5;
      ctx.moveTo(a.left, p3); ctx.lineTo(a.left - 7, p3);
      ctx.stroke();
      // tick labels
      lamDecades.forEach(d => rich(ctx, pow10(d), a.left - 8, y.getPixelForValue(Math.pow(10, d)) + 9, 21, 'right', TXT));
      ctx.font = fnt('b', 19); ctx.fillStyle = G300; ctx.textAlign = 'right'; ctx.textBaseline = 'middle';
      ctx.fillText(String(lamSplit), a.left - 10, y.getPixelForValue(lamSplit) + 1);
      zDecades.forEach(d => rich(ctx, pow10(d), x.getPixelForValue(Math.pow(10, d)), a.bottom + 36, 21, 'center', TXT));
      // axis titles
      rich(ctx, [{ t: 'z', f: 'it' }, { t: '+', f: 'rm', k: 0.68, dy: -0.5 }], 322, a.bottom + 30, 25, 'center', '#333');
      ctx.save(); ctx.translate(47, a.top + 96); ctx.rotate(-Math.PI / 2);
      rich(ctx, [{ t: 'λ', f: 'it' }, { t: '+', f: 'rm', k: 0.65, dy: -0.5, stay: true }, { t: 'y', f: 'it', k: 0.65, dy: 0.3 }], 0, 0, 26, 'center', '#333');
      ctx.restore();
      panelLetter(ctx, row.tag[1], 32);
      fitted(ctx, titleItems(betas[r], reTaus[r]), row.tR[0] - RIGHT_X, row.tR[1] - RIGHT_X, a.top + row.tR[2], row.title, 'left');
      // legend with contour icons
      row.dy.forEach((v, i) => {
        const ly = a.top + 22 + 23.5 * i;
        ctx.strokeStyle = row.line[i]; ctx.lineWidth = 1.1;
        [[12.5, 6.2], [8.5, 4.2], [4.5, 2.2]].forEach(([rx, ry]) => {
          ctx.beginPath(); ctx.ellipse(96.5, ly, rx, ry, 0, 0, Math.PI * 2); ctx.stroke();
        });
        rich(ctx, dyItems(v), 110, ly + 6, 16.5, 'left', '#222');
      });
      // contour levels note
      fitted(ctx, kyItems, 94, 234, a.bottom - 12, '#222', 'left');
      // grid-spacing arrow
      const ax = x.getPixelForValue(row.dyZ), yT = y.getPixelForValue(row.dyT);
      arrow(ctx, ax, yT, y.getPixelForValue(row.dyH), YELLOW, 2.4, 13, 14);
      rich(ctx, [{ t: 'Δy', f: 'sans' }, { t: '+', f: 'sans', k: 0.62, dy: -0.48 }], ax, yT + row.dyLab, 24, 'center', YELLOW);
      const px = x.getPixelForValue(zOP[r]);
      fitted(ctx, zopItems, px + 11, px + 48, a.bottom - 21, ORANGE, 'left');
      if (r === 0) {
        const ux = 1152 - RIGHT_X;
        rich(ctx, [{ t: 'u', f: 'it', ov: -0.95 }, { t: '2', f: 'rm', k: 0.62, dy: -0.42, stay: true, ov: -0.95 }, { t: 'L', f: 'it', k: 0.62, dy: 0.3 }, { t: '+', f: 'rm', k: 0.62, dy: -0.95 }], ux, 202, 23, 'left', '#222');
        rich(ctx, [{ t: 'u', f: 'it', ov: -0.95 }, { t: '2', f: 'rm', k: 0.62, dy: -0.42, stay: true, ov: -0.95 }, { t: 'S', f: 'it', k: 0.62, dy: 0.3 }, { t: '+', f: 'rm', k: 0.62, dy: -0.95 }], ux, 241, 23, 'left', '#222');
      }
      ctx.restore();
    }
  };
  new Chart(canvas, {
    type: 'scatter', data: { datasets },
    options: Object.assign(baseOptions(h, 78, 21), {
      scales: { x: { type: 'logarithmic', min: 0.1, max: 20000, display: false }, y: { type: 'logarithmic', min: 10, max: 50000, display: false } }
    }),
    plugins: [decor]
  });
}

for (let r = 0; r < 4; r++) { profileChart(r); spectrumChart(r); }
</script>
</body>
</html>
